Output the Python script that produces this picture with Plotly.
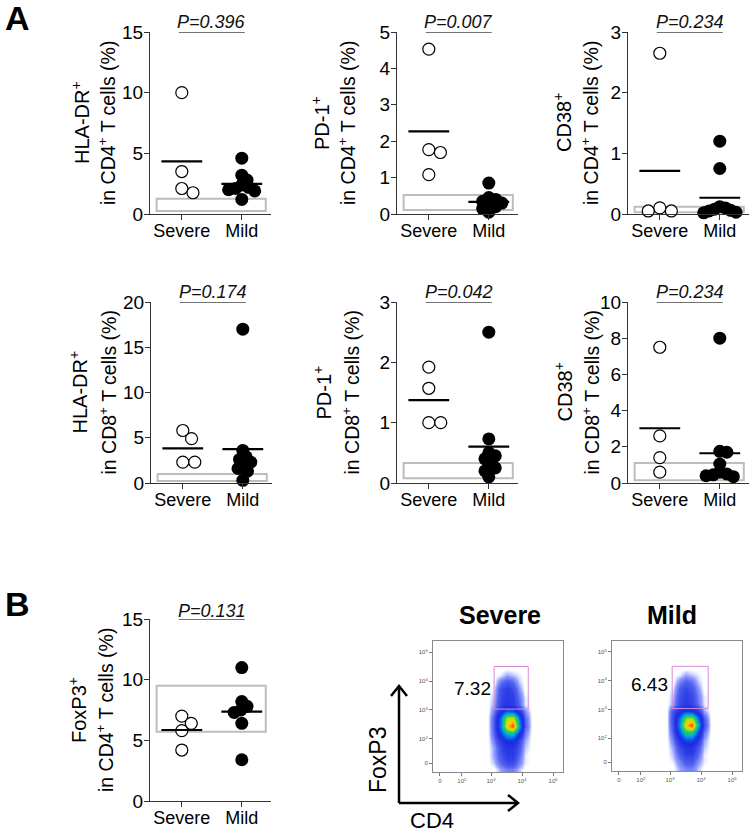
import math
import plotly.graph_objects as go

W, H = 752, 833
FONT = "Liberation Sans, Arial, sans-serif"

def px(x):
    return x / W

def py(y):
    return 1 - y / H

# ---------------- data ----------------
groups = ["Severe", "Mild"]

hla_cd4_severe = [10.0, 3.5, 2.1, 1.75]
hla_cd4_mild = [4.6, 3.2, 2.8, 2.4, 2.2, 2.1, 2.0, 1.9, 1.2]
pd1_cd4_severe = [4.53, 1.77, 1.69, 1.08]
pd1_cd4_mild = [0.85, 0.45, 0.4, 0.35, 0.3, 0.25, 0.2, 0.15, 0.05]
cd38_cd4_severe = [2.65, 0.1, 0.05, 0.05]
cd38_cd4_mild = [1.2, 0.75, 0.12, 0.1, 0.08, 0.06, 0.05, 0.03, 0.02]
hla_cd8_severe = [5.8, 4.9, 2.3, 2.3]
hla_cd8_mild = [17.0, 3.6, 2.9, 2.6, 2.3, 2.0, 1.6, 1.3, 0.3]
pd1_cd8_severe = [1.92, 1.57, 1.0, 1.0]
pd1_cd8_mild = [2.5, 0.73, 0.5, 0.45, 0.4, 0.3, 0.25, 0.2, 0.1]
cd38_cd8_severe = [7.5, 2.6, 1.4, 0.6]
cd38_cd8_mild = [8.0, 1.75, 1.7, 1.05, 0.6, 0.5, 0.45, 0.4, 0.35]
foxp3_cd4_severe = [7.0, 6.4, 5.8, 4.2]
foxp3_cd4_mild = [11.0, 8.2, 7.8, 7.5, 7.3, 6.4, 3.4]

p_values = ["0.396", "0.007", "0.234", "0.174", "0.042", "0.234", "0.131"]
markers = ["HLA-DR", "PD-1", "CD38", "HLA-DR", "PD-1", "CD38", "FoxP3"]
cell_types = ["CD4", "CD4", "CD4", "CD8", "CD8", "CD8", "CD4"]
y_max = [15, 5, 3, 20, 3, 10, 15]
y_ticks = [[0, 5, 10, 15], [0, 1, 2, 3, 4, 5], [0, 1, 2, 3], [0, 5, 10, 15, 20],
           [0, 1, 2, 3], [0, 2, 4, 6, 8, 10], [0, 5, 10, 15]]
ref_low = [0.25, 0.11, 0.03, 0.22, 0.08, 0.15, 5.7]
ref_high = [1.25, 0.52, 0.12, 1.0, 0.33, 1.1, 9.5]

# flow cytometry (display units of biexponential axes)
flow_x_ticks = [1.35, 2.06, 3, 4, 5]
flow_y_ticks = [1.17, 2, 3, 4, 5]
flow_tick_text = ["0", "10<sup>2</sup>", "10<sup>3</sup>", "10<sup>4</sup>", "10<sup>5</sup>"]
flow_grid_x = [2.9, 3.1, 3.3, 3.5, 3.7, 3.9, 4.1, 4.3]
flow_grid_y = [0.95, 1.2, 1.45, 1.7, 1.95, 2.2, 2.45, 2.7, 2.95, 3.2, 3.45, 3.7, 3.95, 4.2, 4.45]
flow_severe_density = [
    [0, 0, 0.3, 0.5, 0.5, 0.2, 0, 0],
    [0, 0.2, 0.7, 1.1, 1.1, 0.5, 0.1, 0],
    [0, 0.3, 0.9, 1.4, 1.4, 0.7, 0.1, 0],
    [0, 0.3, 1.1, 1.7, 1.7, 0.9, 0.2, 0],
    [0, 0.5, 1.5, 2.4, 2.4, 1.2, 0.3, 0],
    [0, 0.7, 2.6, 4.6, 4.8, 2.4, 0.5, 0],
    [0, 0.8, 3.6, 7.8, 9.6, 4.4, 0.8, 0],
    [0, 0.8, 3.4, 7.0, 7.6, 3.6, 0.7, 0],
    [0, 0.5, 1.9, 3.2, 3.0, 1.6, 0.4, 0],
    [0, 0.3, 1.2, 1.6, 1.4, 0.7, 0.1, 0],
    [0, 0.2, 1.1, 1.5, 1.3, 0.6, 0.1, 0],
    [0, 0.1, 1.0, 1.4, 1.1, 0.4, 0, 0],
    [0, 0, 0.6, 0.9, 0.7, 0.2, 0, 0],
    [0, 0, 0.1, 0.3, 0.2, 0.1, 0, 0],
    [0, 0, 0, 0, 0, 0, 0, 0],
]
flow_mild_density = [
    [0, 0, 0.3, 0.5, 0.5, 0.2, 0, 0],
    [0, 0.1, 0.5, 0.9, 0.9, 0.4, 0.1, 0],
    [0, 0.2, 0.8, 1.3, 1.3, 0.7, 0.1, 0],
    [0, 0.3, 1.1, 1.7, 1.7, 0.9, 0.2, 0],
    [0, 0.5, 1.7, 2.8, 2.8, 1.5, 0.3, 0],
    [0, 0.8, 3.0, 5.4, 5.4, 2.8, 0.6, 0],
    [0, 1.0, 4.0, 8.0, 9.6, 4.6, 1.0, 0],
    [0, 1.1, 3.4, 6.4, 6.8, 3.4, 0.8, 0],
    [0, 0.9, 1.9, 2.6, 2.4, 1.4, 0.3, 0],
    [0, 0.3, 1.1, 1.4, 1.2, 0.6, 0.1, 0],
    [0, 0.2, 1.0, 1.3, 1.1, 0.5, 0.1, 0],
    [0, 0.1, 0.8, 1.2, 0.9, 0.4, 0, 0],
    [0, 0, 0.5, 0.8, 0.6, 0.2, 0, 0],
    [0, 0, 0.1, 0.3, 0.2, 0.1, 0, 0],
    [0, 0, 0, 0, 0, 0, 0, 0],
]
gate_x_severe = [3.1, 4.2]
gate_x_mild = [3.07, 4.23]
gate_y = [3.03, 4.5]
gate_pct = ["7.32", "6.43"]

series = [
    (hla_cd4_severe, hla_cd4_mild), (pd1_cd4_severe, pd1_cd4_mild),
    (cd38_cd4_severe, cd38_cd4_mild), (hla_cd8_severe, hla_cd8_mild),
    (pd1_cd8_severe, pd1_cd8_mild), (cd38_cd8_severe, cd38_cd8_mild),
    (foxp3_cd4_severe, foxp3_cd4_mild),
]

# ---------------- layout geometry (pixels) ----------------
# (axis-left x, top y, bottom y, title line1 x, title line2 x, p-text y)
geom = [
    (150, 32, 214, 80, 107, 22),
    (397, 32, 214, 320, 347, 22),
    (628, 32, 214, 562, 590, 22),
    (151, 302, 483, 78, 107, 292),
    (397, 302, 483, 322, 350, 292),
    (628, 302, 483, 563, 590, 292),
    (150, 619, 801, 77, 105, 611),
]
XR = [-0.53, 1.48]
PXU = 60.0  # pixels per category unit
DIAM = 13.0
CAP = 0.27


def beeswarm(vals, ypx_per_unit, factor):
    placed = []
    out = [0.0] * len(vals)
    order = sorted(range(len(vals)), key=lambda i: -vals[i])
    dmin = DIAM * factor
    for i in order:
        y = vals[i] * ypx_per_unit
        cands = [0.0]
        for (px_, py_) in placed:
            dy = abs(py_ - y)
            if dy < dmin:
                dx = math.sqrt(dmin ** 2 - dy ** 2)
                cands += [px_ + dx, px_ - dx]
        cands.sort(key=lambda c: (abs(c), -c))
        for c in cands:
            ok = all((c - a) ** 2 + (y - b) ** 2 >= dmin ** 2 - 1e-6 for a, b in placed)
            if ok:
                placed.append((c, y))
                out[i] = c / PXU
                break
    mx = max(abs(o) for o in out)
    if mx > CAP:
        out = [o * CAP / mx for o in out]
    return out


fig = go.Figure()
shapes = []
annotations = []
layout_axes = {}

for k in range(7):
    ax = "" if k == 0 else str(k + 1)
    xl, yt, yb, t1x, t2x, pty = geom[k]
    xw = (XR[1] - XR[0]) * PXU
    layout_axes["xaxis" + ax] = dict(
        domain=[px(xl), px(xl + xw)], range=XR, anchor="y" + ax,
        tickvals=[0, 1], ticktext=groups, ticks="outside", ticklen=5,
        tickwidth=1.3, tickcolor="#333", showline=True, linecolor="#333",
        linewidth=1.3, showgrid=False, zeroline=False, automargin=False,
        ticklabelstandoff=-5,
        tickfont=dict(size=18, color="black", family=FONT), fixedrange=True,
    )
    layout_axes["yaxis" + ax] = dict(
        domain=[py(yb), py(yt)], range=[0, y_max[k]], anchor="x" + ax,
        tickvals=y_ticks[k], ticks="outside", ticklen=5, tickwidth=1.3,
        tickcolor="#333", showline=True, linecolor="#333", linewidth=1.3,
        showgrid=False, zeroline=False, automargin=False,
        ticklabelstandoff=-3,
        tickfont=dict(size=19, color="black", family=FONT), fixedrange=True,
    )
    ypu = (yb - yt) / y_max[k]
    sev, mild = series[k]
    # reference range box
    shapes.append(dict(type="rect", xref="x" + ax, yref="y" + ax,
                       x0=-0.42, x1=1.4, y0=ref_low[k], y1=ref_high[k],
                       line=dict(color="#bdbdbd", width=2), layer="below"))
    for gi, vals in enumerate((sev, mild)):
        offs = beeswarm(vals, ypu, 0.92 if gi == 0 else 0.55)
        fig.add_trace(go.Scatter(
            x=[gi + o for o in offs], y=vals, mode="markers",
            xaxis="x" + ax, yaxis="y" + ax, cliponaxis=False,
            marker=dict(size=12 if gi == 0 else 13,
                        color="white" if gi == 0 else "black",
                        line=dict(color="black", width=1.2 if gi == 0 else 0)),
            showlegend=False, hoverinfo="skip",
        ))
        m = sum(vals) / len(vals)
        shapes.append(dict(type="line", xref="x" + ax, yref="y" + ax,
                           x0=gi - 0.34, x1=gi + 0.34, y0=m, y1=m,
                           line=dict(color="black", width=2.2), layer="above"))
    # p-value bracket
    shapes.append(dict(type="line", xref="x" + ax, yref="y" + ax,
                       x0=-0.05, x1=1.05, y0=y_max[k], y1=y_max[k],
                       line=dict(color="#444", width=1.3)))
    annotations.append(dict(text="<i>P=" + p_values[k] + "</i>", xref="x" + ax,
                            yref="paper", x=0.5, y=py(pty), showarrow=False,
                            xanchor="center", yanchor="middle",
                            font=dict(size=18, color="#111", family=FONT)))
    # y titles
    mid = py((yt + yb) / 2)
    annotations.append(dict(text=markers[k] + "<sup>+</sup>", xref="paper", yref="paper",
                            x=px(t1x), y=mid, textangle=-90, showarrow=False,
                            xanchor="center", yanchor="middle",
                            font=dict(size=20, color="black", family=FONT)))
    annotations.append(dict(text="in " + cell_types[k] + "<sup>+</sup> T cells (%)",
                            xref="paper", yref="paper", x=px(t2x), y=mid,
                            textangle=-90, showarrow=False, xanchor="center",
                            yanchor="middle",
                            font=dict(size=19.5, color="black", family=FONT)))

# ---------------- flow cytometry panels ----------------
flow_cs = [[0, "rgba(255,255,255,0)"], [0.01, "#e4e8ff"], [0.03, "#949eff"],
           [0.07, "#5262f0"], [0.13, "#2e3ee8"], [0.22, "#1a2ae0"],
           [0.34, "#0a70f0"], [0.45, "#00bcc8"], [0.56, "#28cc50"],
           [0.68, "#a8e020"], [0.8, "#ffd000"], [0.9, "#ff7000"], [1, "#e81000"]]
flow_geom = [(433, 563, 641, 772), (612, 742, 641, 771)]
flow_titles = ["Severe", "Mild"]
flow_data = [flow_severe_density, flow_mild_density]
flow_gates = [gate_x_severe, gate_x_mild]
pct_pos = [(472, 688), (649, 684)]
title_x = [500, 672]
for j in range(2):
    ax = str(8 + j)
    x0p, x1p, y0p, y1p = flow_geom[j]
    layout_axes["xaxis" + ax] = dict(
        domain=[px(x0p), px(x1p)], range=[1.13, 5.32], anchor="y" + ax,
        tickvals=flow_x_ticks, ticktext=flow_tick_text, ticks="outside",
        ticklen=3, tickcolor="#777", showline=True, mirror=True,
        linecolor="#8a8a8a", linewidth=1, showgrid=False, zeroline=False,
        automargin=False,
        tickfont=dict(size=6, color="#555", family=FONT), fixedrange=True)
    layout_axes["yaxis" + ax] = dict(
        domain=[py(y1p), py(y0p)], range=[0.86, 5.38], anchor="x" + ax,
        tickvals=flow_y_ticks, ticktext=flow_tick_text, ticks="outside",
        ticklen=3, tickcolor="#777", showline=True, mirror=True,
        linecolor="#8a8a8a", linewidth=1, showgrid=False, zeroline=False,
        automargin=False,
        tickfont=dict(size=6, color="#555", family=FONT), fixedrange=True)
    fig.add_trace(go.Heatmap(
        x=flow_grid_x, y=flow_grid_y, z=flow_data[j], zmin=0, zmax=10,
        colorscale=flow_cs, zsmooth="best", showscale=False,
        xaxis="x" + ax, yaxis="y" + ax, hoverinfo="skip"))
    gx = flow_gates[j]
    shapes.append(dict(type="rect", xref="x" + ax, yref="y" + ax,
                       x0=gx[0], x1=gx[1], y0=gate_y[0], y1=gate_y[1],
                       line=dict(color="#d68ad6", width=1)))
    annotations.append(dict(text=gate_pct[j], xref="paper", yref="paper",
                            x=px(pct_pos[j][0]), y=py(pct_pos[j][1]),
                            showarrow=False, xanchor="center", yanchor="middle",
                            font=dict(size=19, color="black", family=FONT)))
    annotations.append(dict(text="<b>" + flow_titles[j] + "</b>", xref="paper",
                            yref="paper", x=px(title_x[j]),
                            y=py(615), showarrow=False, xanchor="center",
                            yanchor="middle",
                            font=dict(size=25, color="black", family=FONT)))

# FoxP3 / CD4 axis arrows
def path(points):
    return "M " + " L ".join(f"{px(a):.5f},{py(b):.5f}" for a, b in points)

for pts in ([(399, 803), (399, 686)], [(399, 803), (518, 803)],
            [(391, 696), (399, 686), (407, 696)], [(508, 795), (518, 803), (508, 811)]):
    shapes.append(dict(type="path", xref="paper", yref="paper", path=path(pts),
                       line=dict(color="black", width=2.5)))
annotations.append(dict(text="FoxP3", xref="paper", yref="paper", x=px(378),
                        y=py(760), textangle=-90, showarrow=False,
                        xanchor="center", yanchor="middle",
                        font=dict(size=23, color="black", family=FONT)))
annotations.append(dict(text="CD4", xref="paper", yref="paper", x=px(432),
                        y=py(820), showarrow=False, xanchor="center",
                        yanchor="middle",
                        font=dict(size=22, color="black", family=FONT)))

# panel letters
for letter, (lx, ly) in (("A", (17, 18)), ("B", (17, 604))):
    annotations.append(dict(text="<b>" + letter + "</b>", xref="paper", yref="paper",
                            x=px(lx), y=py(ly), showarrow=False, xanchor="center",
                            yanchor="middle",
                            font=dict(size=34, color="black", family=FONT)))

fig.update_layout(
    template="none",
    width=W, height=H, margin=dict(l=0, r=0, t=0, b=0, autoexpand=False),
    paper_bgcolor="white", plot_bgcolor="white", showlegend=False,
    shapes=shapes, annotations=annotations,
    font=dict(family=FONT, color="black"), **layout_axes)

fig.write_html("out.html", config={"displayModeBar": False},
               post_script="document.body.style.margin='0px';"
                           "document.body.style.padding='0px';"
                           "document.body.style.overflow='hidden';")
